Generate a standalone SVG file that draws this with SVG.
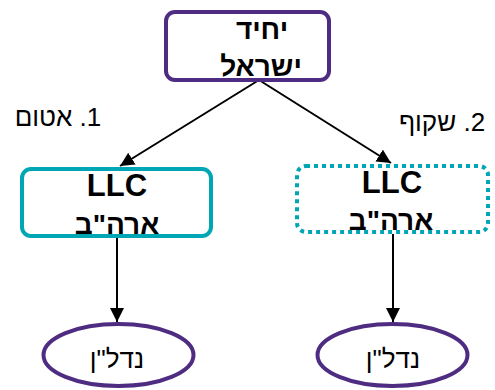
<svg xmlns="http://www.w3.org/2000/svg" width="495" height="390" viewBox="0 0 495 390">
<style>
text{font-family:"Liberation Sans","DejaVu Sans",sans-serif;fill:#000;text-anchor:middle;direction:rtl}
.b{font-weight:bold;font-size:28px}
.llc{font-weight:bold;font-size:31px;direction:ltr}
.n{font-size:26px}
.lbl{font-size:26px}
.purple{fill:#fff;stroke:#4E2C82;stroke-width:4}
.teal{fill:#fff;stroke:#00A6B4;stroke-width:4}
.dot{fill:#fff;stroke:#00A6B4;stroke-width:4;stroke-dasharray:4 4}
.edge{stroke:#000;stroke-width:2;fill:none;marker-end:url(#ah)}
</style>
<defs>
<marker id="ah" markerUnits="userSpaceOnUse" markerWidth="15" markerHeight="15" refX="14" refY="7" orient="auto">
<path d="M0,0 L14,7 L0,14 Z" fill="#000"/>
</marker>
</defs>
<rect width="495" height="390" fill="#fff"/>
<g id="connectors">
<line class="edge" x1="259" y1="80" x2="120" y2="166"/>
<line class="edge" x1="259" y1="80" x2="391" y2="163"/>
<line class="edge" x1="117" y1="238" x2="117" y2="322"/>
<line class="edge" x1="393" y1="234" x2="393" y2="322"/>
</g>
<g id="n-top">
<rect class="purple" x="166" y="12" width="163" height="68" rx="9"/>
<text class="b" x="262" y="39">יחיד</text>
<text class="b" x="261" y="76">ישראל</text>
</g>
<g id="n-left">
<rect class="teal" x="22" y="169" width="189" height="67" rx="9"/>
<text class="llc" x="117" y="196">LLC</text>
<text class="b" x="117" y="234">ארה"ב</text>
</g>
<g id="n-right">
<rect class="dot" x="297" y="166" width="191" height="66" rx="9"/>
<text class="llc" x="392" y="193">LLC</text>
<text class="b" x="391" y="230">ארה"ב</text>
</g>
<g id="n-leaf-left">
<ellipse class="purple" cx="118.5" cy="355" rx="75" ry="31"/>
<text class="n" x="117" y="368">נדל"ן</text>
</g>
<g id="n-leaf-right">
<ellipse class="purple" cx="392.5" cy="355" rx="75" ry="31"/>
<text class="n" x="393" y="368">נדל"ן</text>
</g>
<g id="labels">
<text class="lbl" x="58" y="126">1. אטום</text>
<text class="lbl" x="442" y="131">2. שקוף</text>
</g>
</svg>
